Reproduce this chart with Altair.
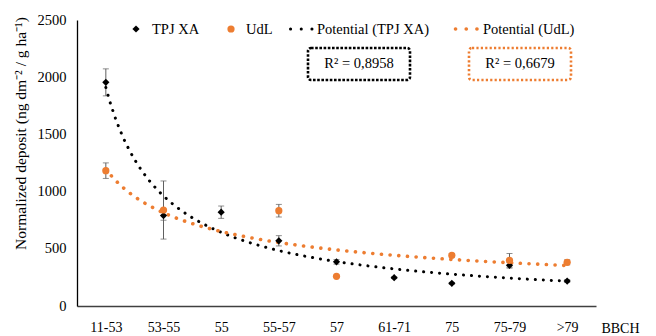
import json
import altair as alt
import pandas as pd

# ---- data ----
categories = ["11-53", "53-55", "55", "55-57", "57", "61-71", "75", "75-79", ">79"]
tpj_xa = [1955, 790, 820, 570, 386, 248, 198, 356, 218]
tpj_xa_err = [118, 40, 54, 45, 20, 8, 8, 25, 12]
udl = [1183, 839, None, 833, 259, None, 443, 399, 382]
udl_err = [68, 254, None, 55, 8, None, 15, 60, 22]
series_names = ["TPJ XA", "UdL", "Potential (TPJ XA)", "Potential (UdL)"]
r2_labels = ["R² = 0,8958", "R² = 0,6679"]

BLACK = "#000000"
ORANGE = "#ED7D31"
GREY = "#606060"
FONT = "Liberation Serif"

rows = []
for i, c in enumerate(categories):
    rows.append(dict(x=i + 1, category=c, series="TPJ XA", value=tpj_xa[i],
                     lo=tpj_xa[i] - tpj_xa_err[i], hi=tpj_xa[i] + tpj_xa_err[i]))
for i, c in enumerate(categories):
    if udl[i] is None:
        continue
    rows.append(dict(x=i + 1, category=c, series="UdL", value=udl[i],
                     lo=udl[i] - udl_err[i], hi=udl[i] + udl_err[i]))
df = pd.DataFrame(rows)

label_expr = json.dumps(categories) + "[datum.value - 1]"
ytitle = "Normalized deposit  (ng dm⁻² / g ha⁻¹)"

x_enc = alt.X(
    "x:Q",
    scale=alt.Scale(domain=[0.5, 9.5], nice=False, zero=False),
    axis=alt.Axis(
        values=list(range(1, 10)), labelExpr=label_expr, ticks=False, grid=False,
        domainColor="#404040", domainWidth=1.3, labelPadding=14,
        labelFont=FONT, titleFont=FONT,
        labelFontSize=14, labelColor="#000000", titleFontSize=14,
        titleFontWeight="normal", titleColor="#000000",
        titleX=543, titleY=22, titleAlign="center", titleBaseline="middle",
    ),
    title="BBCH",
)
y_scale = alt.Scale(domain=[0, 2500], nice=False, zero=True)
y_axis = alt.Axis(
    values=[0, 500, 1000, 1500, 2000, 2500], format="d", ticks=False, grid=False,
    domainColor="#000000", domainWidth=1.3, labelPadding=11,
    labelFont=FONT, titleFont=FONT,
    labelFontSize=14.5, labelColor="#000000", titleFontSize=15.5,
    titleFontWeight="normal", titleColor="#000000",
    titleX=-57, titleY=113, titleAngle=-90, titleAlign="center", titleBaseline="middle",
)

base = alt.Chart(df)

errbars = base.mark_errorbar(
    ticks=alt.MarkConfig(size=6, color=GREY, strokeWidth=1),
    rule=alt.MarkConfig(color=GREY, strokeWidth=1),
).encode(
    x=x_enc,
    y=alt.Y("lo:Q", scale=y_scale, axis=y_axis, title=ytitle),
    y2="hi:Q",
)

def trend(series, color, width, dash):
    return base.transform_filter(
        alt.datum.series == series
    ).transform_regression(
        "x", "value", method="pow", extent=[1, 9]
    ).mark_line(
        color=color, strokeWidth=width, strokeDash=dash, strokeCap="round"
    ).encode(
        x=x_enc,
        y=alt.Y("value:Q", scale=y_scale, axis=y_axis, title=ytitle),
    )

trend_tpj = trend("TPJ XA", BLACK, 3, [0.1, 7.9])
trend_udl = trend("UdL", ORANGE, 3.6, [0.1, 8.6])

points = base.mark_point(filled=True, size=52, opacity=1).encode(
    x=x_enc,
    y=alt.Y("value:Q", scale=y_scale, axis=y_axis, title=ytitle),
    color=alt.Color(
        "series:N",
        scale=alt.Scale(domain=series_names[:2], range=[BLACK, ORANGE]),
        legend=None,
    ),
    shape=alt.Shape(
        "series:N",
        scale=alt.Scale(domain=series_names[:2], range=["diamond", "circle"]),
        legend=None,
    ),
)

# ---- legend (drawn as annotation) ----
leg_df = pd.DataFrame({"name": series_names})
def leg_src(name):
    return alt.Chart(leg_df).transform_filter(alt.datum.name == name)

def leg_text(name, xpos):
    return leg_src(name).mark_text(
        font=FONT, fontSize=14.5, color="#000000", align="left", baseline="middle"
    ).encode(text="name:N", x=alt.value(xpos), y=alt.value(10))

leg_items = [
    leg_src(series_names[0]).mark_point(shape="diamond", filled=True, size=52, color=BLACK, opacity=1)
    .encode(x=alt.value(59), y=alt.value(9)),
    leg_text(series_names[0], 75),
    leg_src(series_names[1]).mark_point(shape="circle", filled=True, size=52, color=ORANGE, opacity=1)
    .encode(x=alt.value(154), y=alt.value(9)),
    leg_text(series_names[1], 169),
    leg_src(series_names[2]).mark_rule(color=BLACK, strokeWidth=3, strokeDash=[0.1, 10.6], strokeCap="round")
    .encode(x=alt.value(213.5), x2=alt.value(235.5), y=alt.value(9)),
    leg_text(series_names[2], 240),
    leg_src(series_names[3]).mark_rule(color=ORANGE, strokeWidth=3.6, strokeDash=[0.1, 10.6], strokeCap="round")
    .encode(x=alt.value(378.5), x2=alt.value(400.5), y=alt.value(9)),
    leg_text(series_names[3], 406),
]

# R² annotation boxes
box_df = pd.DataFrame({"label": r2_labels, "series": ["TPJ XA", "UdL"]})
box_black = alt.Chart(box_df).transform_filter(alt.datum.series == "TPJ XA").mark_rect(
    fill="white", stroke=BLACK, strokeWidth=2.6, strokeDash=[2.6, 1.6], cornerRadius=3
).encode(x=alt.value(231), x2=alt.value(333), y=alt.value(28), y2=alt.value(60))
box_orange = alt.Chart(box_df).transform_filter(alt.datum.series == "UdL").mark_rect(
    fill="white", stroke=ORANGE, strokeWidth=2.6, strokeDash=[2.2, 2.2], cornerRadius=3
).encode(x=alt.value(392), x2=alt.value(494), y=alt.value(28), y2=alt.value(60))
txt_black = alt.Chart(box_df).transform_filter(alt.datum.series == "TPJ XA").mark_text(
    font=FONT, fontSize=14.5, color="#000000", align="center", baseline="middle"
).encode(text="label:N", x=alt.value(282), y=alt.value(44))
txt_orange = alt.Chart(box_df).transform_filter(alt.datum.series == "UdL").mark_text(
    font=FONT, fontSize=14.5, color="#000000", align="center", baseline="middle"
).encode(text="label:N", x=alt.value(443), y=alt.value(44))

chart = alt.layer(
    errbars, trend_tpj, trend_udl, points, box_black, box_orange, txt_black, txt_orange,
    *leg_items
).properties(
    width=519, height=286,
    autosize=alt.AutoSizeParams(type="none"),
    padding={"left": 69, "top": 12, "right": 52, "bottom": 30},
).configure(
    background="white", font=FONT
).configure_view(
    stroke=None
).configure_axis(
    labelFont=FONT, titleFont=FONT
).configure_text(
    font=FONT
)

chart.save("out.html", embed_options={"renderer": "svg", "actions": False})
